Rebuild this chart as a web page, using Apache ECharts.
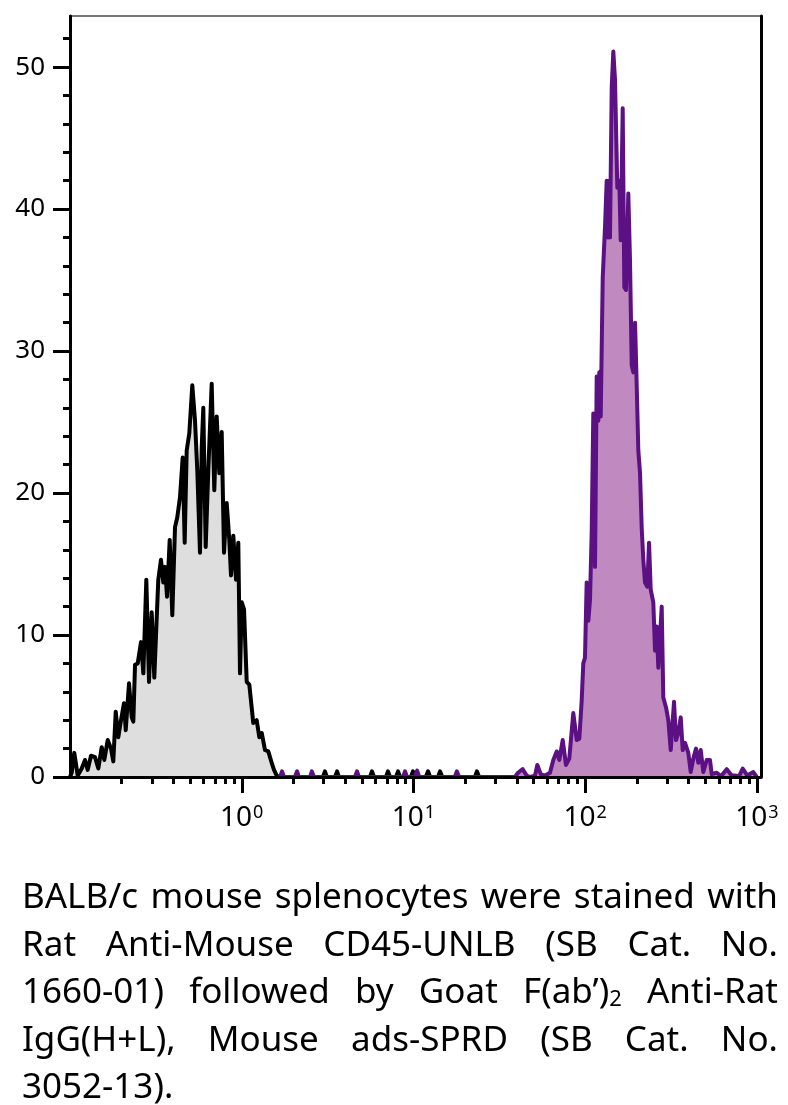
<!DOCTYPE html>
<html>
<head>
<meta charset="utf-8">
<script src="https://cdn.jsdelivr.net/npm/echarts@6/dist/echarts.min.js"></script>
<style>
  html, body { margin: 0; padding: 0; background: #fff; }
  #chart { position: absolute; left: 0; top: 0; width: 788px; height: 1105px; }
  #caption { position: absolute; left: 22px; top: 871px; width: 756px; font-family: 'Noto Sans', sans-serif; font-size: 35px; line-height: 47.5px; color: #000; z-index: 2; }
  #caption .ln { text-align: justify; text-align-last: justify; white-space: nowrap; }
  #caption .last { text-align: left; text-align-last: left; }
  #caption .sub { font-size: 22px; line-height: 0; vertical-align: -3px; }
</style>
</head>
<body>
<div id="chart"></div>
<div id="caption">
  <div class="ln">BALB/c mouse splenocytes were stained with</div>
  <div class="ln">Rat Anti-Mouse CD45-UNLB (SB Cat. No.</div>
  <div class="ln">1660-01) followed by Goat F(ab’)<span class="sub">2</span> Anti-Rat</div>
  <div class="ln">IgG(H+L), Mouse ads-SPRD (SB Cat. No.</div>
  <div class="ln last">3052-13).</div>
</div>
<script>
// Unstained control histogram: [fluorescence intensity, count]
const controlCounts = [
  [0.1,0],[0.1023,0.3],[0.1059,1.7],[0.1109,0.1],[0.117,0.6],[0.1223,1.2],[0.1268,0.5],[0.1325,1.5],
  [0.1398,1.4],[0.1462,0.6],[0.153,2.1],[0.1584,1.2],[0.1658,2.6],[0.1733,2.0],[0.1787,1.1],[0.1846,4.6],
  [0.1911,2.8],[0.1981,4.0],[0.2063,5.2],[0.2111,3.3],[0.2206,6.6],[0.2287,4.2],[0.2337,3.9],[0.2391,7.9],
  [0.2479,8.0],[0.2591,9.5],[0.2673,7.3],[0.2782,13.9],[0.2884,6.7],[0.299,11.6],[0.3096,7.0],[0.3266,13.9],
  [0.3386,15.3],[0.3493,13.7],[0.3574,14.8],[0.3672,12.7],[0.3806,16.7],[0.3941,11.4],[0.4087,17.6],[0.4214,18.3],
  [0.4369,19.7],[0.453,22.5],[0.4653,16.5],[0.478,23.0],[0.495,24.2],[0.5153,27.6],[0.5343,25.1],[0.551,21.6],
  [0.5713,15.8],[0.5845,23.2],[0.5972,26.0],[0.6167,16.2],[0.6386,21.6],[0.6683,27.7],[0.6921,20.2],[0.7146,25.4],
  [0.7401,21.4],[0.7643,24.3],[0.7882,15.8],[0.8172,19.3],[0.8463,16.7],[0.8658,14.2],[0.893,17.0],[0.9258,13.9],
  [0.9548,16.5],[0.9768,7.3],[1.0,12.3],[1.031,11.8],[1.069,6.7],[1.107,6.5],[1.167,3.8],[1.222,4.0],
  [1.265,2.8],[1.307,3.1],[1.366,1.9],[1.427,1.8],[1.494,1.0],[1.541,0.5],[1.598,0.1],[1.67,0]
];
// isolated single events of the control on the baseline
const controlEvents = [
  [2.97,0],[3.05,0.4],[3.13,0],[3.49,0],[3.59,0.4],[3.68,0],[5.58,0],[5.73,0.4],[5.89,0],
  [6.91,0],[7.10,0.4],[7.30,0],[7.91,0],[8.13,0.4],[8.35,0],[9.66,0],[9.93,0.4],[10.2,0],
  [11.8,0],[12.15,0.4],[12.5,0],[13.9,0],[14.27,0.4],[14.7,0],[22.8,0],[23.4,0.4],[24.1,0]
];
// Stained (CD45 + Goat F(ab')2 anti-rat SPRD) histogram
const stainedEvents = [
  [1.67,0],[1.716,0.4],[1.76,0],[2.04,0],[2.10,0.4],[2.15,0],[2.50,0],[2.56,0.4],[2.63,0],
  [4.56,0],[4.69,0.4],[4.81,0],[8.69,0],[8.93,0.4],[9.16,0],[10.2,0],[10.5,0.45],[10.8,0],
  [17.4,0],[17.9,0.4],[18.4,0]
];
const stainedCounts = [
  [38.99,0],[40.59,0.3],[43.23,0.55],[45.61,0.1],[47.67,0],[50.98,0.1],[52.58,0.85],[55.04,0.2],
  [58.3,0.1],[62.34,0.3],[65.16,1.2],[68.2,1.8],[70.61,1.2],[73.9,2.6],[77.24,0.85],[80.73,1.3],
  [85.18,4.5],[89.19,2.6],[92.34,2.7],[95.35,5.4],[97.41,8.0],[99.65,8.4],[101.9,13.7],[104.2,11.0],
  [106.6,12.5],[109.0,17.2],[111.4,25.6],[114.0,14.8],[116.6,28.2],[119.1,25.1],[120.7,28.5],[123.0,25.4],
  [126.4,35.2],[130.3,38.7],[133.3,42.0],[135.6,38.0],[137.5,42.0],[139.3,38.0],[142.6,48.6],[145.7,51.1],
  [149.0,49.1],[153.7,41.5],[157.9,42.0],[160.8,37.8],[165.2,47.1],[168.8,34.5],[172.7,34.3],[178.1,41.1],
  [182.2,36.4],[186.4,29.0],[190.5,28.5],[194.9,32.0],[199.4,27.5],[203.7,23.0],[208.4,21.4],[213.2,17.5],
  [217.8,15.3],[222.8,13.7],[229.8,13.4],[235.1,16.5],[240.5,13.2],[249.0,12.3],[254.8,8.9],[260.6,10.6],
  [266.3,7.7],[278.7,12.0],[284.7,5.6],[295.3,4.9],[304.5,4.0],[314.5,1.9],[328.7,5.3],[337.7,2.6],
  [348.3,3.1],[359.6,4.2],[369.4,1.9],[381.0,2.4],[398.1,1.7],[411.1,0.35],[425.7,1.3],[441.4,2.0],
  [455.2,1.0],[470.1,1.9],[486.8,0.35],[509.5,1.2],[532.5,1.2],[544.8,0.2],[582.6,0.3],[617.2,0.05],
  [666.2,0.55],[712.4,0.1],[744.6,0.1],[785.6,0.05],[825.4,0.6],[877.9,0.1],[951.7,0.35],[996,0]
];
const xMajorTicks = [1, 10, 100, 1000];
const xMinorTicks = [0.2,0.3,0.4,0.5,0.6,0.7,0.8,0.9, 2,3,4,5,6,7,8,9, 20,30,40,50,60,70,80,90, 200,300,400,500,600,700,800,900];
const yMajorTicks = [0, 10, 20, 30, 40, 50];
const yMinorTicks = [2,4,6,8, 12,14,16,18, 22,24,26,28, 32,34,36,38, 42,44,46,48, 52];

const FONT = 'Noto Sans';
const X_MIN = 0.1, X_MAX = 1055, Y_MIN = 0, Y_MAX = 53.6;

const chart = echarts.init(document.getElementById('chart'), null, { renderer: 'canvas' });
chart.setOption({
  animation: false,
  backgroundColor: '#fff',
  grid: { left: 70, top: 16, width: 691, height: 761, show: true, borderColor: '#777', borderWidth: 2, backgroundColor: 'transparent' },
  xAxis: [
    {
      type: 'log', logBase: 10, min: X_MIN, max: X_MAX, position: 'bottom', z: 5,
      axisLine: { show: true, onZero: false, lineStyle: { color: '#000', width: 3 } },
      axisTick: { show: true, customValues: xMajorTicks, length: 16, lineStyle: { color: '#000', width: 3 } },
      axisLabel: {
        show: true, customValues: xMajorTicks, margin: 27,
        formatter: function (v) { return '{b|10}{s|' + Math.round(Math.log10(v)) + '}'; },
        rich: {
          b: { fontSize: 28, fontFamily: FONT, color: '#000' },
          s: { fontSize: 18, fontFamily: FONT, color: '#000', verticalAlign: 'top', padding: [0, 0, 0, 1] }
        }
      },
      splitLine: { show: false }, minorTick: { show: false }
    },
    {
      type: 'log', logBase: 10, min: X_MIN, max: X_MAX, position: 'bottom', z: 5,
      axisLine: { show: false, onZero: false },
      axisTick: { show: true, customValues: xMinorTicks, length: 7, lineStyle: { color: '#000', width: 3 } },
      axisLabel: { show: false }, splitLine: { show: false }
    }
  ],
  yAxis: [
    {
      type: 'value', min: Y_MIN, max: Y_MAX, position: 'left', z: 5,
      axisLine: { show: true, onZero: false, lineStyle: { color: '#000', width: 3 } },
      axisTick: { show: true, customValues: yMajorTicks, length: 17, lineStyle: { color: '#000', width: 3 } },
      axisLabel: { show: true, customValues: yMajorTicks, margin: 25, fontSize: 26, fontFamily: FONT, color: '#000' },
      splitLine: { show: false }
    },
    {
      type: 'value', min: Y_MIN, max: Y_MAX, position: 'left', z: 5,
      axisLine: { show: false, onZero: false },
      axisTick: { show: true, customValues: yMinorTicks, length: 7, lineStyle: { color: '#000', width: 3 } },
      axisLabel: { show: false }, splitLine: { show: false }
    },
    {
      type: 'value', min: Y_MIN, max: Y_MAX, position: 'right', z: 5,
      axisLine: { show: true, onZero: false, lineStyle: { color: '#000', width: 3 } },
      axisTick: { show: false }, axisLabel: { show: false }, splitLine: { show: false }
    }
  ],
  series: [
    {
      name: 'Unstained', type: 'line', xAxisIndex: 0, yAxisIndex: 0, showSymbol: false, z: 2,
      data: controlCounts.concat(controlEvents),
      lineStyle: { color: '#000', width: 4, join: 'round' }, areaStyle: { color: '#dedede', opacity: 1 }
    },
    {
      name: 'Stained', type: 'line', xAxisIndex: 0, yAxisIndex: 0, showSymbol: false, z: 3,
      data: stainedEvents.concat(stainedCounts),
      lineStyle: { color: '#5b1083', width: 4, join: 'round' }, areaStyle: { color: '#c08ac0', opacity: 1 }
    }
  ]
});
</script>
</body>
</html>
